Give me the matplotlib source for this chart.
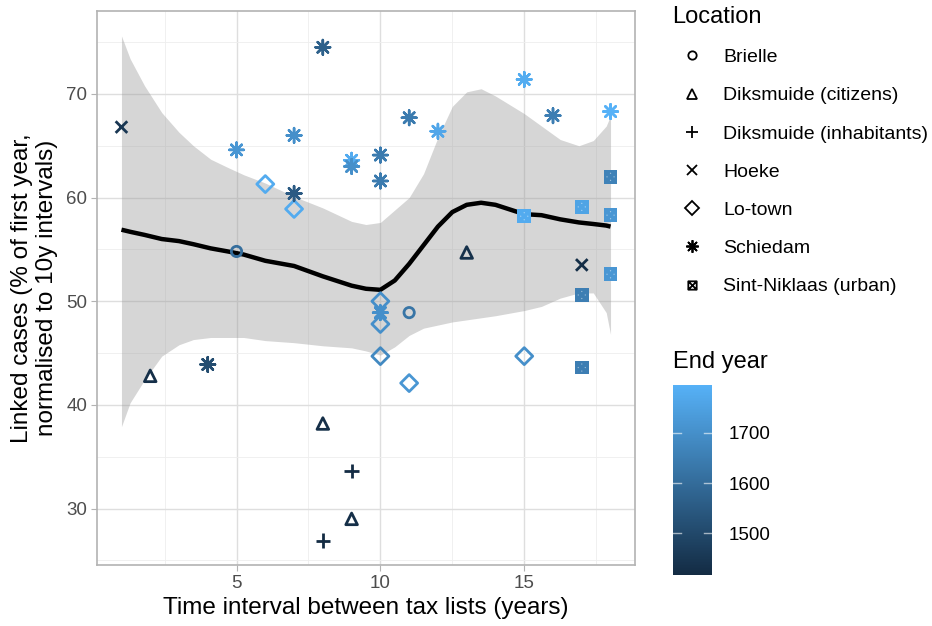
import numpy as np
import matplotlib
matplotlib.use("Agg")
import matplotlib.pyplot as plt
from matplotlib.colors import LinearSegmentedColormap, Normalize, to_rgb
from matplotlib.cm import ScalarMappable
from matplotlib.lines import Line2D
from matplotlib.path import Path

plt.rcParams['font.family'] = ['Liberation Sans', 'DejaVu Sans']

# points per location: interval (years), linked cases (%), end year
brielle_x = [5, 11]
brielle_y = [54.8, 48.9]
brielle_end = [1606, 1625]

dik_cit_x = [2, 8, 9, 13]
dik_cit_y = [42.8, 38.2, 29.0, 54.7]
dik_cit_end = [1428, 1428, 1428, 1436]

dik_inh_x = [8, 9]
dik_inh_y = [26.9, 33.6]
dik_inh_end = [1417, 1420]

hoeke_x = [1, 17]
hoeke_y = [66.8, 53.5]
hoeke_end = [1450, 1425]

lotown_x = [6, 7, 10, 10, 10, 11, 15]
lotown_y = [61.3, 58.9, 50.0, 47.8, 44.7, 42.1, 44.7]
lotown_end = [1776, 1776, 1700, 1700, 1682, 1719, 1700]

schiedam_x = [4, 5, 7, 7, 8, 9, 9, 10, 10, 10, 11, 12, 15, 16, 18]
schiedam_y = [43.9, 64.6, 66.0, 60.4, 74.5, 63.6, 63.0, 64.1, 61.6, 48.9, 67.7, 66.4, 71.4, 67.9, 68.3]
schiedam_end = [1512, 1719, 1700, 1550, 1568, 1776, 1700, 1644, 1644, 1700, 1644, 1765, 1780, 1651, 1795]

sint_x = [15, 17, 17, 17, 18, 18, 18]
sint_y = [58.2, 59.1, 50.6, 43.6, 62.0, 58.3, 52.6]
sint_end = [1776, 1757, 1651, 1651, 1663, 1719, 1719]

# smoother
fit_x = [1, 1.3, 1.8, 2.4, 3, 3.5, 4.1, 4.7, 5.25, 6, 7, 8, 9, 9.5, 10, 10.5, 11,
         11.5, 12, 12.5, 13, 13.5, 14, 15, 15.6, 16.25, 16.9, 17.4, 17.85, 18]
fit_y = [56.9, 56.7, 56.4, 56.0, 55.8, 55.5, 55.1, 54.8, 54.5, 53.9, 53.4, 52.4, 51.5, 51.2,
         51.1, 52.0, 53.6, 55.4, 57.2, 58.6, 59.3, 59.5, 59.3, 58.4, 58.3, 57.9, 57.6, 57.45, 57.3, 57.2]
fit_hi = [75.6, 73.4, 70.8, 68.2, 66.3, 65.0, 63.7, 62.9, 62.2, 61.4, 60.1, 59.0, 57.7, 57.4,
          57.6, 58.8, 60.0, 62.3, 65.8, 68.8, 70.2, 70.5, 69.8, 68.1, 66.9, 65.6, 65.0, 65.5, 66.9, 67.9]
fit_lo = [37.9, 40.2, 42.4, 44.7, 45.8, 46.3, 46.5, 46.5, 46.5, 46.2, 46.0, 45.7, 45.5, 45.2,
          44.8, 45.6, 46.7, 47.4, 47.7, 48.0, 48.2, 48.4, 48.6, 49.1, 49.5, 50.3, 50.8, 50.8, 48.9, 46.8]

cmap = LinearSegmentedColormap.from_list('ggblue', ['#132B43', '#56B1F7'])
all_end = brielle_end + dik_cit_end + dik_inh_end + hoeke_end + lotown_end + schiedam_end + sint_end
norm = Normalize(vmin=min(all_end), vmax=max(all_end))

fig = plt.figure(figsize=(9.32, 6.26), dpi=100)
ax = fig.add_axes([97/932, 1 - 565/626, 538/932, 554/626])

ax.set_xlim(0.15, 18.85)
ax.set_ylim(24.55, 78.0)
ax.set_xticks([5, 10, 15])
ax.set_xticks([2.5, 7.5, 12.5, 17.5], minor=True)
ax.set_yticks([30, 40, 50, 60, 70])
ax.set_yticks([25, 35, 45, 55, 65, 75], minor=True)
ax.grid(which='major', color='#DEDEDE', lw=1.0, zorder=0)
ax.grid(which='minor', color='#EEEEEE', lw=0.6, zorder=0)
ax.set_axisbelow(True)
for s in ax.spines.values():
    s.set_color('#B3B3B3')
    s.set_linewidth(1.2)
ax.tick_params(which='major', length=4, color='#B3B3B3', labelsize=13.5, labelcolor='#4D4D4D', pad=3)
ax.tick_params(which='minor', length=0)

ax.fill_between(fit_x, fit_lo, fit_hi, color='#999999', alpha=0.4, lw=0, zorder=1)
ax.plot(fit_x, fit_y, color='black', lw=3.2, solid_capstyle='butt', zorder=2)

def cols(v):
    return cmap(norm(np.array(v)))

lw = 2.0
ax.scatter(brielle_x, brielle_y, s=55, marker='o', facecolors='none', edgecolors=cols(brielle_end), linewidths=lw, zorder=3)
ax.scatter(dik_cit_x, dik_cit_y, s=70, marker='^', facecolors='none', edgecolors=cols(dik_cit_end), linewidths=lw, zorder=3)
ax.scatter(dik_inh_x, dik_inh_y, s=110, marker='+', c=cols(dik_inh_end), linewidths=lw, zorder=3)
ax.scatter(hoeke_x, hoeke_y, s=70, marker='x', c=cols(hoeke_end), linewidths=lw, zorder=3)
ax.scatter(lotown_x, lotown_y, s=75, marker='D', facecolors='none', edgecolors=cols(lotown_end), linewidths=lw, zorder=3)
ax.scatter(schiedam_x, schiedam_y, s=110, marker=(8, 2, 0), c=cols(schiedam_end), linewidths=1.8, zorder=3)
ax.scatter(sint_x, sint_y, s=100, marker='s', c=cols(sint_end), linewidths=0, zorder=3)
dots = Path.make_compound_path(*[Path.circle(p, 0.1) for p in [(0, 0.55), (0, -0.55), (0.55, 0), (-0.55, 0)]])
light = [tuple(0.5 * np.array(to_rgb(c)) + 0.5) for c in cols(sint_end)]
ax.scatter(sint_x, sint_y, s=36, marker=dots, c=light, linewidths=0, zorder=4)

ax.set_xlabel('Time interval between tax lists (years)', fontsize=17.5, labelpad=4)
ax.set_ylabel('Linked cases (% of first year,\nnormalised to 10y intervals)', fontsize=17.5, labelpad=6)

# legend
sqx = Path([(-1, -1), (1, -1), (1, 1), (-1, 1), (-1, -1), (-1, -1), (1, 1), (-1, 1), (1, -1)],
           [Path.MOVETO, Path.LINETO, Path.LINETO, Path.LINETO, Path.CLOSEPOLY,
            Path.MOVETO, Path.LINETO, Path.MOVETO, Path.LINETO])
locations = ['Brielle', 'Diksmuide (citizens)', 'Diksmuide (inhabitants)', 'Hoeke',
             'Lo-town', 'Schiedam', 'Sint-Niklaas (urban)']
leg_markers = ['o', '^', '+', 'x', 'D', (8, 2, 0), sqx]
leg_sizes = [6, 7, 9, 7, 7, 9, 6]
handles = [Line2D([], [], ls='none', marker=m, ms=sz, mfc='none', mec='black', mew=1.3, color='black')
           for m, sz in zip(leg_markers, leg_sizes)]
leg = fig.legend(handles, locations, loc='upper left', bbox_to_anchor=(668/932, 1 - 2/626),
                 frameon=False, fontsize=14, title='Location', title_fontsize=17,
                 alignment='left', labelspacing=1.06, handlelength=2.06, handletextpad=0.57,
                 borderaxespad=0.0, borderpad=0.2)

# colourbar
cax = fig.add_axes([673/932, 1 - 575/626, 39/932, 190/626])
cb = fig.colorbar(ScalarMappable(norm=norm, cmap=cmap), cax=cax)
cb.outline.set_visible(False)
cb.set_ticks([1500, 1600, 1700])
cax.tick_params(length=0, labelsize=13.5, labelcolor='black', pad=12)
for v in [1500, 1600, 1700]:
    cax.axhline(v, 0, 0.2, color='white', lw=1, alpha=0.6)
    cax.axhline(v, 0.8, 1, color='white', lw=1, alpha=0.6)
fig.text(673/932, 1 - 362/626, 'End year', fontsize=17, va='center', ha='left')

fig.savefig('out.png', dpi=100)
